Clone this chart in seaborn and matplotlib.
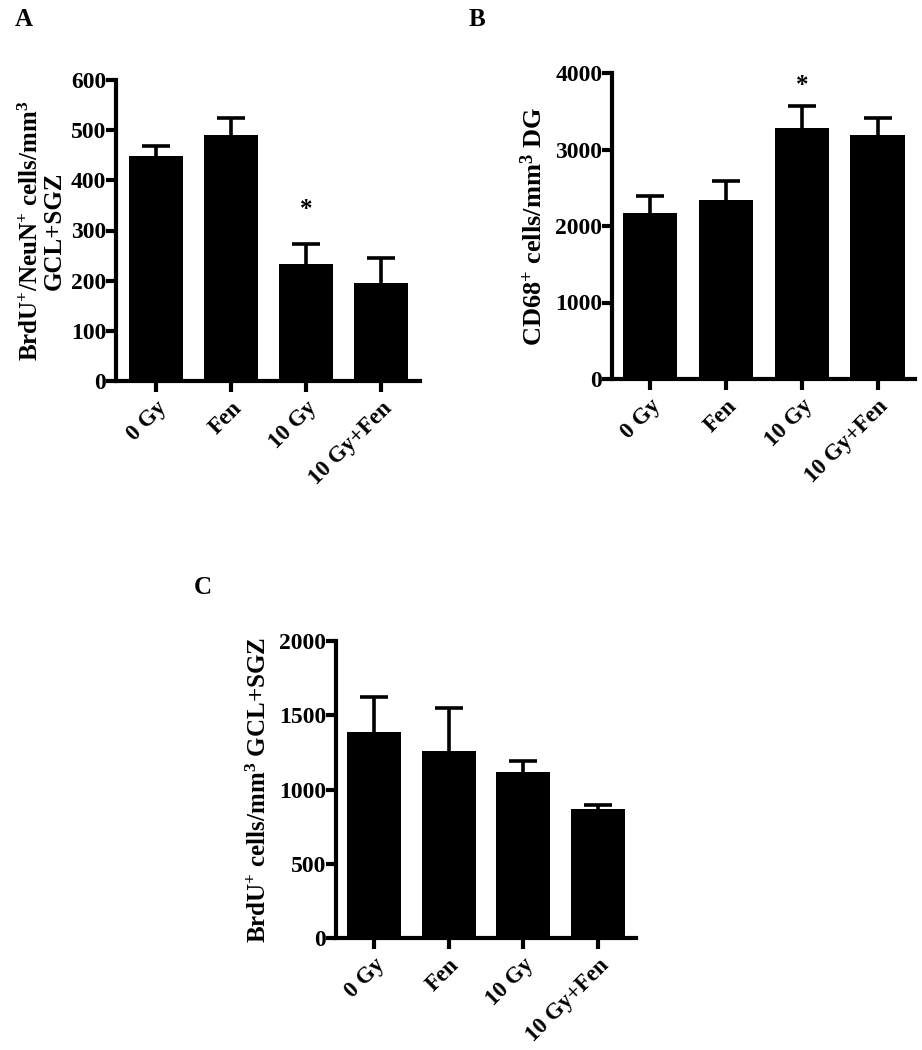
import numpy as np
import pandas as pd
import matplotlib
matplotlib.use("Agg")
import matplotlib.pyplot as plt
import seaborn as sns

# ----------------------------
# data
# ----------------------------
groups = ["0 Gy", "Fen", "10 Gy", "10 Gy+Fen"]

neun_mean = [448, 490, 233, 196]
neun_sem = [21, 34, 41, 50]

cd68_mean = [2170, 2340, 3275, 3185]
cd68_sem = [225, 250, 295, 230]

brdu_mean = [1386, 1259, 1120, 869]
brdu_sem = [238, 291, 72, 25]

# asterisk over the 10 Gy group (y in data units)
star_a = 342
star_b = 3840

sns.set_style("ticks")
plt.rcParams["font.family"] = ["Liberation Serif", "DejaVu Serif"]
plt.rcParams["font.weight"] = "bold"
plt.rcParams["mathtext.fontset"] = "custom"
plt.rcParams["mathtext.rm"] = "Liberation Serif:bold"
plt.rcParams["mathtext.bf"] = "Liberation Serif:bold"
plt.rcParams["mathtext.it"] = "Liberation Serif:bold"
plt.rcParams["mathtext.default"] = "rm"
for k in ["text.color", "axes.labelcolor", "xtick.color", "ytick.color", "axes.edgecolor"]:
    plt.rcParams[k] = "black"

fig = plt.figure(figsize=(9.22, 10.5), dpi=100)

W, H = 922, 1050


def add_axes(left, right, top, bottom):
    return fig.add_axes([left / W, 1 - bottom / H, (right - left) / W, (bottom - top) / H])


def panel(ax, means, sems, ymax, step, ylabel, xlim, star=None, lab_pad=8, lab_size=18):
    df = pd.DataFrame({"group": groups, "value": means})
    sns.barplot(data=df, x="group", y="value", color="black", linewidth=0,
                width=0.72, errorbar=None, ax=ax, saturation=1)
    x = np.arange(len(groups))
    eb = ax.errorbar(x, means, yerr=[np.zeros(len(sems)), sems], fmt="none",
                     ecolor="black", elinewidth=2.6, capsize=10, capthick=2.6)
    # only the upper cap is drawn in the original
    eb[1][0].set_visible(False)
    ax.set_ylim(0, ymax)
    ax.set_xlim(*xlim)
    ax.set_yticks(np.arange(0, ymax + 1, step))
    sns.despine(ax=ax)
    for s in ["left", "bottom"]:
        ax.spines[s].set_linewidth(3)
    ax.tick_params(axis="both", width=3, length=7, labelsize=17, pad=0)
    ax.tick_params(axis="x", length=8, pad=4)
    ax.set_xlabel("")
    ax.set_ylabel(ylabel, fontsize=lab_size, fontweight="bold", labelpad=lab_pad, linespacing=0.95)
    ax.set_xticks(x)
    ax.set_xticklabels(groups, rotation=45, ha="right", rotation_mode="anchor",
                       fontsize=16.5, fontweight="bold")
    for t in ax.get_yticklabels():
        t.set_fontweight("bold")
    if star is not None:
        ax.text(2, star, "*", ha="center", va="center", fontsize=18, fontweight="bold")


# A
axA = add_axes(116, 420, 80, 381)
panel(axA, neun_mean, neun_sem, 600, 100,
      "BrdU$^{+}$/NeuN$^{+}$ cells/mm$^{3}$\nGCL+SGZ", (-0.53, 3.52), star_a, lab_pad=4)

# B
axB = add_axes(612, 915, 73, 379)
panel(axB, cd68_mean, cd68_sem, 4000, 1000,
      "CD68$^{+}$ cells/mm$^{3}$ DG", (-0.5, 3.49), star_b, lab_pad=6, lab_size=19)

# C
axC = add_axes(336, 636, 641, 938)
panel(axC, brdu_mean, brdu_sem, 2000, 500,
      "BrdU$^{+}$ cells/mm$^{3}$ GCL+SGZ", (-0.51, 3.51), lab_pad=6, lab_size=18)

fig.text(15 / W, 1 - 8 / H, "A", fontsize=18, fontweight="bold", va="top")
fig.text(469 / W, 1 - 8 / H, "B", fontsize=18, fontweight="bold", va="top")
fig.text(194 / W, 1 - 576 / H, "C", fontsize=18, fontweight="bold", va="top")

fig.savefig("out.png", dpi=100, facecolor="white")
